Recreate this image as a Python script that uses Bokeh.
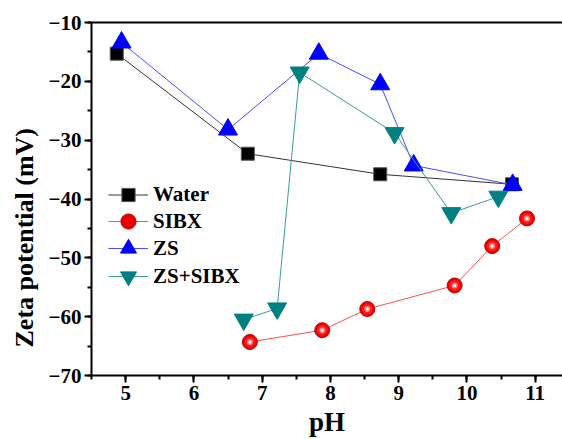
from bokeh.plotting import figure
from bokeh.models import Range1d, LinearAxis, Legend, LegendItem, SingleIntervalTicker, FixedTicker, Title
from bokeh.embed import file_html
from bokeh.resources import INLINE

water_ph = [4.87, 6.79, 8.73, 10.66]
water_zp = [-15.3, -32.3, -35.8, -37.5]
sibx_ph = [6.82, 7.88, 8.54, 9.82, 10.37, 10.88]
sibx_zp = [-64.3, -62.3, -58.7, -54.7, -48.0, -43.3]
zs_ph = [4.94, 6.50, 7.83, 8.73, 9.22, 10.67]
zs_zp = [-13.4, -28.2, -15.3, -20.5, -34.3, -37.6]
zss_ph = [6.73, 7.22, 7.55, 8.94, 9.77, 10.46]
zss_zp = [-60.5, -58.6, -18.5, -28.8, -42.4, -39.6]

FONT = "Liberation Serif"

p = figure(width=562, height=439, output_backend="svg", toolbar_location=None,
           x_range=Range1d(4.5, 11.4), y_range=Range1d(-70, -10),
           min_border_left=91, min_border_right=0, min_border_top=22, min_border_bottom=0)
p.outline_line_color = None
p.xgrid.visible = False
p.ygrid.visible = False
p.background_fill_color = "white"
p.border_fill_color = "white"

for ax in (p.xaxis[0], p.yaxis[0]):
    ax.axis_line_width = 2
    ax.major_tick_line_width = 2
    ax.minor_tick_line_width = 2
    ax.major_tick_in = 0
    ax.major_tick_out = 7
    ax.minor_tick_in = 0
    ax.minor_tick_out = 4
    ax.major_label_text_font = FONT
    ax.major_label_text_font_style = "bold"
    ax.major_label_text_font_size = "21px"
    ax.major_label_text_color = "black"
    ax.axis_label_text_font = FONT
    ax.axis_label_text_font_style = "bold"
    ax.axis_label_text_font_size = "27px"
    ax.axis_label_text_color = "black"

p.xaxis[0].ticker = SingleIntervalTicker(interval=1, num_minor_ticks=2)
p.yaxis[0].ticker = SingleIntervalTicker(interval=10, num_minor_ticks=2)
p.xaxis[0].axis_label = "pH"
p.xaxis[0].major_label_standoff = 3
p.yaxis[0].major_label_standoff = 3
p.xaxis[0].axis_label_standoff = 4

ytitle = Title(text="Zeta potential (mV)", align="left", offset=28, standoff=13,
               text_font=FONT, text_font_style="bold", text_font_size="26px", text_color="black")
p.add_layout(ytitle, "left")

top = LinearAxis(ticker=FixedTicker(ticks=[]), major_tick_out=0, major_tick_in=0,
                 minor_tick_out=0, minor_tick_in=0, axis_line_width=2)
p.add_layout(top, "above")

# Water
wl = p.line(water_ph, water_zp, line_color="#333333", line_width=1)
ws = p.scatter(water_ph, water_zp, marker="square", size=13, fill_color="black", line_color="#555555")

# SIBX
sl = p.line(sibx_ph, sibx_zp, line_color="#ff5050", line_width=1)
s1 = p.scatter(sibx_ph, sibx_zp, marker="circle", size=15, fill_color="#e80000", line_color="#c80000")
s2 = p.scatter(sibx_ph, sibx_zp, marker="circle", size=11, fill_color="#ff1a1a", line_color=None)
s3 = p.scatter(sibx_ph, sibx_zp, marker="circle", size=6, fill_color="#ff8080", line_color=None)
s4 = p.scatter(sibx_ph, sibx_zp, marker="circle", size=3, fill_color="white", line_color=None)

# ZS
zl = p.line(zs_ph, zs_zp, line_color="#4d4dff", line_width=1)
zm = p.scatter(zs_ph, zs_zp, marker="triangle", size=19, fill_color="#0000ff", line_color="#0000ff")

# ZS+SIBX
ql = p.line(zss_ph, zss_zp, line_color="#3a9a9a", line_width=1)
qm = p.scatter(zss_ph, zss_zp, marker="inverted_triangle", size=19, fill_color="#008080", line_color="#008080")


def make_legend(label, renderers, gh, y):
    lg = Legend(items=[LegendItem(label=label, renderers=renderers)], location=(17, y))
    lg.label_text_font = FONT
    lg.label_text_font_style = "bold"
    lg.label_text_font_size = "21px"
    lg.label_text_color = "black"
    lg.border_line_color = None
    lg.background_fill_alpha = 0
    lg.padding = 0
    lg.margin = 0
    lg.spacing = 0
    lg.glyph_width = 40
    lg.glyph_height = gh
    lg.label_height = 20
    lg.label_standoff = 5
    p.add_layout(lg, "center")


make_legend("Water", [wl, ws], 33, 164)
make_legend("SIBX", [sl, s1], 38, 135)
make_legend("ZS", [zl, zm], 40, 107)
make_legend("ZS+SIBX", [ql, qm], 40, 79)

open("out.html", "w").write(file_html(p, INLINE))
